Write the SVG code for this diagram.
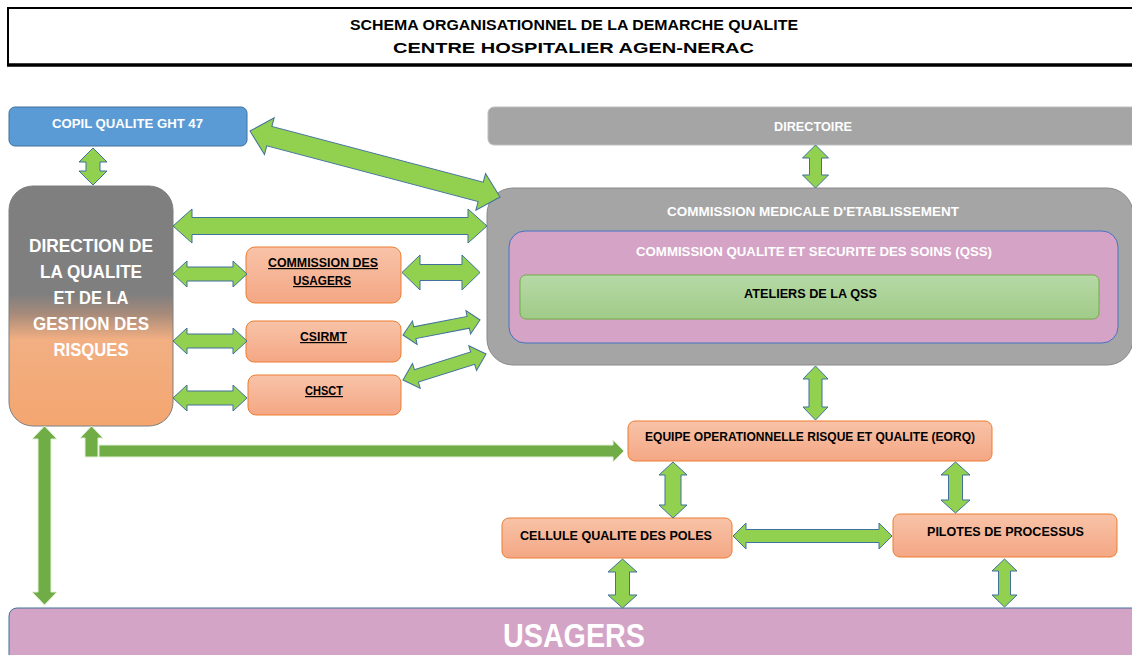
<svg xmlns="http://www.w3.org/2000/svg" width="1132" height="655" viewBox="0 0 1132 655">
<defs>
<linearGradient id="gDir" x1="0" y1="0" x2="0" y2="1">
<stop offset="0" stop-color="#7F7F7F"/>
<stop offset="0.45" stop-color="#7F7F7F"/>
<stop offset="0.53" stop-color="#A58A7A"/>
<stop offset="0.64" stop-color="#F2AF82"/>
<stop offset="1" stop-color="#F4A670"/>
</linearGradient>
<linearGradient id="gOr" x1="0" y1="0" x2="0" y2="1">
<stop offset="0" stop-color="#F8C3A8"/>
<stop offset="1" stop-color="#F4A784"/>
</linearGradient>
<linearGradient id="gGr" x1="0" y1="0" x2="0" y2="1">
<stop offset="0" stop-color="#B6D9A6"/>
<stop offset="1" stop-color="#A0CB88"/>
</linearGradient>
<style>
text{font-family:"Liberation Sans",Arial,sans-serif;font-weight:bold;text-anchor:middle}
.w{fill:#FFFFFF}
.k{fill:#000000}
.u{text-decoration:underline}
.or{fill:url(#gOr);stroke:#ED7D31;stroke-width:1}
.ar{fill:#92D050;stroke:#41719C;stroke-width:1;stroke-linejoin:miter}
.dk{fill:#70AD47;stroke:#E2F0D9;stroke-width:1}
</style>
</defs>
<rect width="1132" height="655" fill="#FFFFFF"/>

<g id="title">
<path d="M1140,8 H8 V64" fill="none" stroke="#000" stroke-width="2"/>
<line x1="7" y1="65" x2="1140" y2="65" stroke="#000" stroke-width="3.5"/>
<text x="574" y="30" font-size="14" textLength="448" lengthAdjust="spacingAndGlyphs" class="k">SCHEMA ORGANISATIONNEL DE LA DEMARCHE QUALITE</text>
<text x="573.5" y="53" font-size="14" textLength="361" lengthAdjust="spacingAndGlyphs" class="k">CENTRE HOSPITALIER AGEN-NERAC</text>
</g>

<g id="copil">
<rect x="9" y="107" width="238" height="39" rx="6" fill="#5B9BD5" stroke="#41719C"/>
<text x="127.5" y="128" font-size="13" textLength="151" lengthAdjust="spacingAndGlyphs" class="w">COPIL QUALITE GHT 47</text>
</g>

<g id="directoire">
<rect x="488" y="107" width="660" height="38" rx="6" fill="#A5A5A5" stroke="#BFBFBF"/>
<text x="813" y="131" font-size="13" textLength="78" lengthAdjust="spacingAndGlyphs" class="w">DIRECTOIRE</text>
</g>

<g id="direction">
<rect x="9" y="186" width="164" height="240" rx="24" fill="url(#gDir)" stroke="#7F7F7F"/>
<text x="91" y="252" font-size="19" textLength="124" lengthAdjust="spacingAndGlyphs" class="w">DIRECTION DE</text>
<text x="91" y="278" font-size="19" textLength="102" lengthAdjust="spacingAndGlyphs" class="w">LA QUALITE</text>
<text x="91" y="304" font-size="19" textLength="75" lengthAdjust="spacingAndGlyphs" class="w">ET DE LA</text>
<text x="91" y="330" font-size="19" textLength="116" lengthAdjust="spacingAndGlyphs" class="w">GESTION DES</text>
<text x="91" y="356" font-size="19" textLength="75" lengthAdjust="spacingAndGlyphs" class="w">RISQUES</text>
</g>

<g id="cme">
<rect x="487" y="188" width="646" height="177" rx="26" fill="#A5A5A5" stroke="#8A8A8A"/>
<text x="813" y="216" font-size="13" textLength="292" lengthAdjust="spacingAndGlyphs" class="w">COMMISSION MEDICALE D'ETABLISSEMENT</text>
</g>

<g id="qss">
<rect x="509" y="231" width="609" height="112" rx="16" fill="#D4A3C6" stroke="#4472C4"/>
<text x="814" y="256" font-size="13" textLength="356" lengthAdjust="spacingAndGlyphs" class="w">COMMISSION QUALITE ET SECURITE DES SOINS (QSS)</text>
</g>

<g id="ateliers">
<rect x="520" y="275" width="579" height="44" rx="6" fill="url(#gGr)" stroke="#70AD47"/>
<text x="810.5" y="298" font-size="13.5" textLength="133" lengthAdjust="spacingAndGlyphs" class="k">ATELIERS DE LA QSS</text>
</g>

<g id="commission-usagers">
<rect x="246" y="247" width="155" height="56" rx="9" class="or"/>
<text x="323" y="267" font-size="12" textLength="110" lengthAdjust="spacingAndGlyphs" class="k u">COMMISSION DES</text>
<text x="322" y="285" font-size="12" textLength="58" lengthAdjust="spacingAndGlyphs" class="k u">USAGERS</text>
</g>

<g id="csirmt">
<rect x="246" y="321" width="155" height="41" rx="8" class="or"/>
<text x="323.5" y="341" font-size="12" textLength="47" lengthAdjust="spacingAndGlyphs" class="k u">CSIRMT</text>
</g>

<g id="chsct">
<rect x="248" y="375" width="153" height="40" rx="8" class="or"/>
<text x="324" y="395" font-size="12" textLength="38" lengthAdjust="spacingAndGlyphs" class="k u">CHSCT</text>
</g>

<g id="eorq">
<rect x="628" y="421" width="364" height="40" rx="7" class="or"/>
<text x="810" y="441" font-size="13" textLength="330" lengthAdjust="spacingAndGlyphs" class="k">EQUIPE OPERATIONNELLE RISQUE ET QUALITE (EORQ)</text>
</g>

<g id="cellule">
<rect x="502" y="518" width="230" height="40" rx="7" class="or"/>
<text x="616" y="540" font-size="13" textLength="192" lengthAdjust="spacingAndGlyphs" class="k">CELLULE QUALITE DES POLES</text>
</g>

<g id="pilotes">
<rect x="893" y="514" width="224" height="43" rx="7" class="or"/>
<text x="1005.5" y="536" font-size="13" textLength="157" lengthAdjust="spacingAndGlyphs" class="k">PILOTES DE PROCESSUS</text>
</g>

<g id="usagers">
<rect x="9" y="608" width="1140" height="60" rx="8" fill="#D4A4C7" stroke="#41719C"/>
<text x="574" y="647" font-size="33" textLength="142" lengthAdjust="spacingAndGlyphs" class="w">USAGERS</text>
</g>

<g id="connectors">
<polygon class="ar" points="93,148 107,162 100,162 100,171 107,171 93,185 79,171 86,171 86,162 79,162"/>
<polygon class="ar" transform="translate(250,131) rotate(14.79)" points="0,0 20,-19 20,-10 238.6,-10 238.6,-19 258.6,0 238.6,19 238.6,10 20,10 20,19"/>
<polygon class="ar" points="173,226 192,209 192,217.5 468,217.5 468,209 487,226 468,243 468,234.5 192,234.5 192,243"/>
<polygon class="ar" points="173,274 187,261 187,267 233,267 233,261 247,274 233,287 233,281 187,281 187,287"/>
<polygon class="ar" points="402,272.5 420,255 420,264.5 462,264.5 462,255 480,272.5 462,290 462,280.5 420,280.5 420,290"/>
<polygon class="ar" points="173,341 187,328 187,334 233,334 233,328 247,341 233,354 233,348 187,348 187,354"/>
<polygon class="ar" transform="translate(403,335) rotate(-11.02)" points="0,0 12,-12 12,-6 66.45,-6 66.45,-12 78.45,0 66.45,12 66.45,6 12,6 12,12"/>
<polygon class="ar" points="173,398 187,385 187,391 233,391 233,385 247,398 233,411 233,405 187,405 187,411"/>
<polygon class="ar" transform="translate(403,380) rotate(-17.39)" points="0,0 14,-13 14,-6.5 73,-6.5 73,-13 87,0 73,13 73,6.5 14,6.5 14,13"/>
<polygon class="ar" points="815.5,145 828.5,158 821.5,158 821.5,175 828.5,175 815.5,188 802.5,175 809.5,175 809.5,158 802.5,158"/>
<polygon class="ar" points="815.5,366 828,379 822,379 822,407 828,407 815.5,420 803,407 809,407 809,379 803,379"/>
<polygon class="ar" points="673,462 687,475 681,475 681,505 687,505 673,518 659,505 665,505 665,475 659,475"/>
<polygon class="ar" points="955.5,462 970,475 962.5,475 962.5,500 970,500 955.5,513 941,500 948.5,500 948.5,475 941,475"/>
<polygon class="ar" points="733,536 746,523 746,529.5 879,529.5 879,523 892,536 879,549 879,542.5 746,542.5 746,549"/>
<polygon class="ar" points="622.5,559 637,572 629.5,572 629.5,595 637,595 622.5,608 608,595 615.5,595 615.5,572 608,572"/>
<polygon class="ar" points="1004.5,559 1017,571 1010.5,571 1010.5,595 1017,595 1004.5,607 992,595 998.5,595 998.5,571 992,571"/>
<polygon class="dk" points="44.5,426 57,439 51,439 51,592 57,592 44.5,605 32,592 38,592 38,439 32,439"/>
<polygon class="dk" points="91.5,426 103,438 98,438 98,457 85,457 85,438 80,438"/>
<polygon class="dk" points="99,445 613,445 613,440 624,451 613,462 613,457 99,457"/>
</g>
</svg>
